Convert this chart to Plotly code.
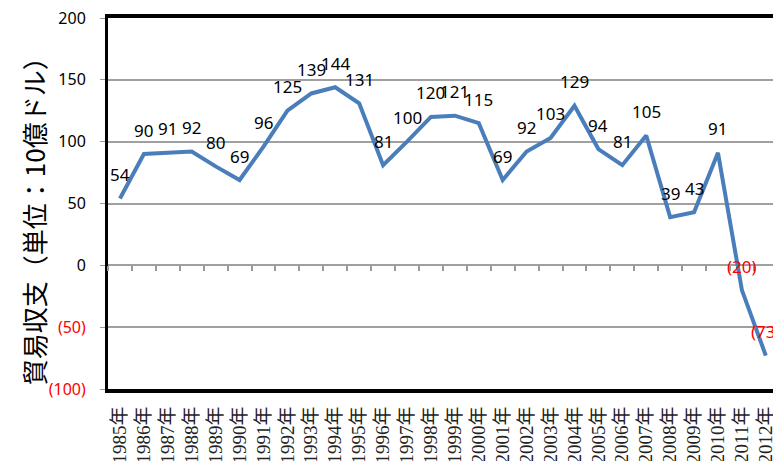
import plotly.graph_objects as go

years = [f"{y}年" for y in range(1985, 2013)]
values = [54, 90, 91, 92, 80, 69, 96, 125, 139, 144, 131, 81, 100, 120, 121, 115,
          69, 92, 103, 129, 94, 81, 105, 39, 43, 91, -20, -73]
ytick_vals = [-100, -50, 0, 50, 100, 150, 200]
ytick_text = ['<span style="color:red">(100)</span>', '<span style="color:red">(50)</span>',
              '0', '50', '100', '150', '200']
y_title = "貿易収支（単位：10億ドル）"

def fmt(v):
    return f"({abs(v)})" if v < 0 else str(v)

fig = go.Figure()
fig.add_trace(go.Scatter(x=years, y=values, mode="lines",
                         line=dict(color="#4A7EBB", width=4), hoverinfo="skip",
                         showlegend=False))
fig.add_trace(go.Scatter(x=years, y=values, mode="lines", xaxis="x2",
                         line=dict(width=0), hoverinfo="skip", showlegend=False,
                         opacity=0))

for yr, v in zip(years, values):
    fig.add_annotation(x=yr, y=v, text=fmt(v), showarrow=False, yshift=24,
                       font=dict(family="Noto Sans", size=17,
                                 color="red" if v < 0 else "black"))

fig.add_annotation(xref="paper", yref="paper", x=-0.112, y=0.47, text=y_title,
                   textangle=-90, showarrow=False, xanchor="center", yanchor="middle",
                   font=dict(family="Noto Sans CJK JP", size=26, color="black"))

rng = [-0.5, 27.3]
fig.update_layout(
    width=773, height=461,
    margin=dict(l=108, r=0, t=18, b=72),
    paper_bgcolor="white", plot_bgcolor="white",
    xaxis=dict(type="category", range=rng, tickangle=-90, showgrid=False,
               tickmode="array", tickvals=years, ticktext=years, automargin=False,
               showline=True, linecolor="black", linewidth=4, mirror=True,
               ticks="", ticklabelstandoff=6,
               tickfont=dict(family="Liberation Serif, Noto Sans CJK JP", size=19, color="#222")),
    xaxis2=dict(type="category", range=rng, overlaying="x", anchor="free",
                position=1/3, side="bottom", showticklabels=False, showgrid=False,
                showline=False, ticks="outside", ticklen=5, tickcolor="#9A9A9A",
                tickwidth=1.5, tickson="boundaries", automargin=False),
    yaxis=dict(range=[-100, 200], tickvals=ytick_vals, ticktext=ytick_text,
               automargin=False,
               showgrid=True, gridcolor="#A0A0A0", gridwidth=1.5,
               zeroline=True, zerolinecolor="#A0A0A0", zerolinewidth=1.5,
               showline=True, linecolor="black", linewidth=3,
               ticks="outside", ticklen=5, tickcolor="#9A9A9A", ticklabelstandoff=11,
               tickfont=dict(family="Noto Sans", size=16, color="black")),
)

fig.write_html("out.html")
